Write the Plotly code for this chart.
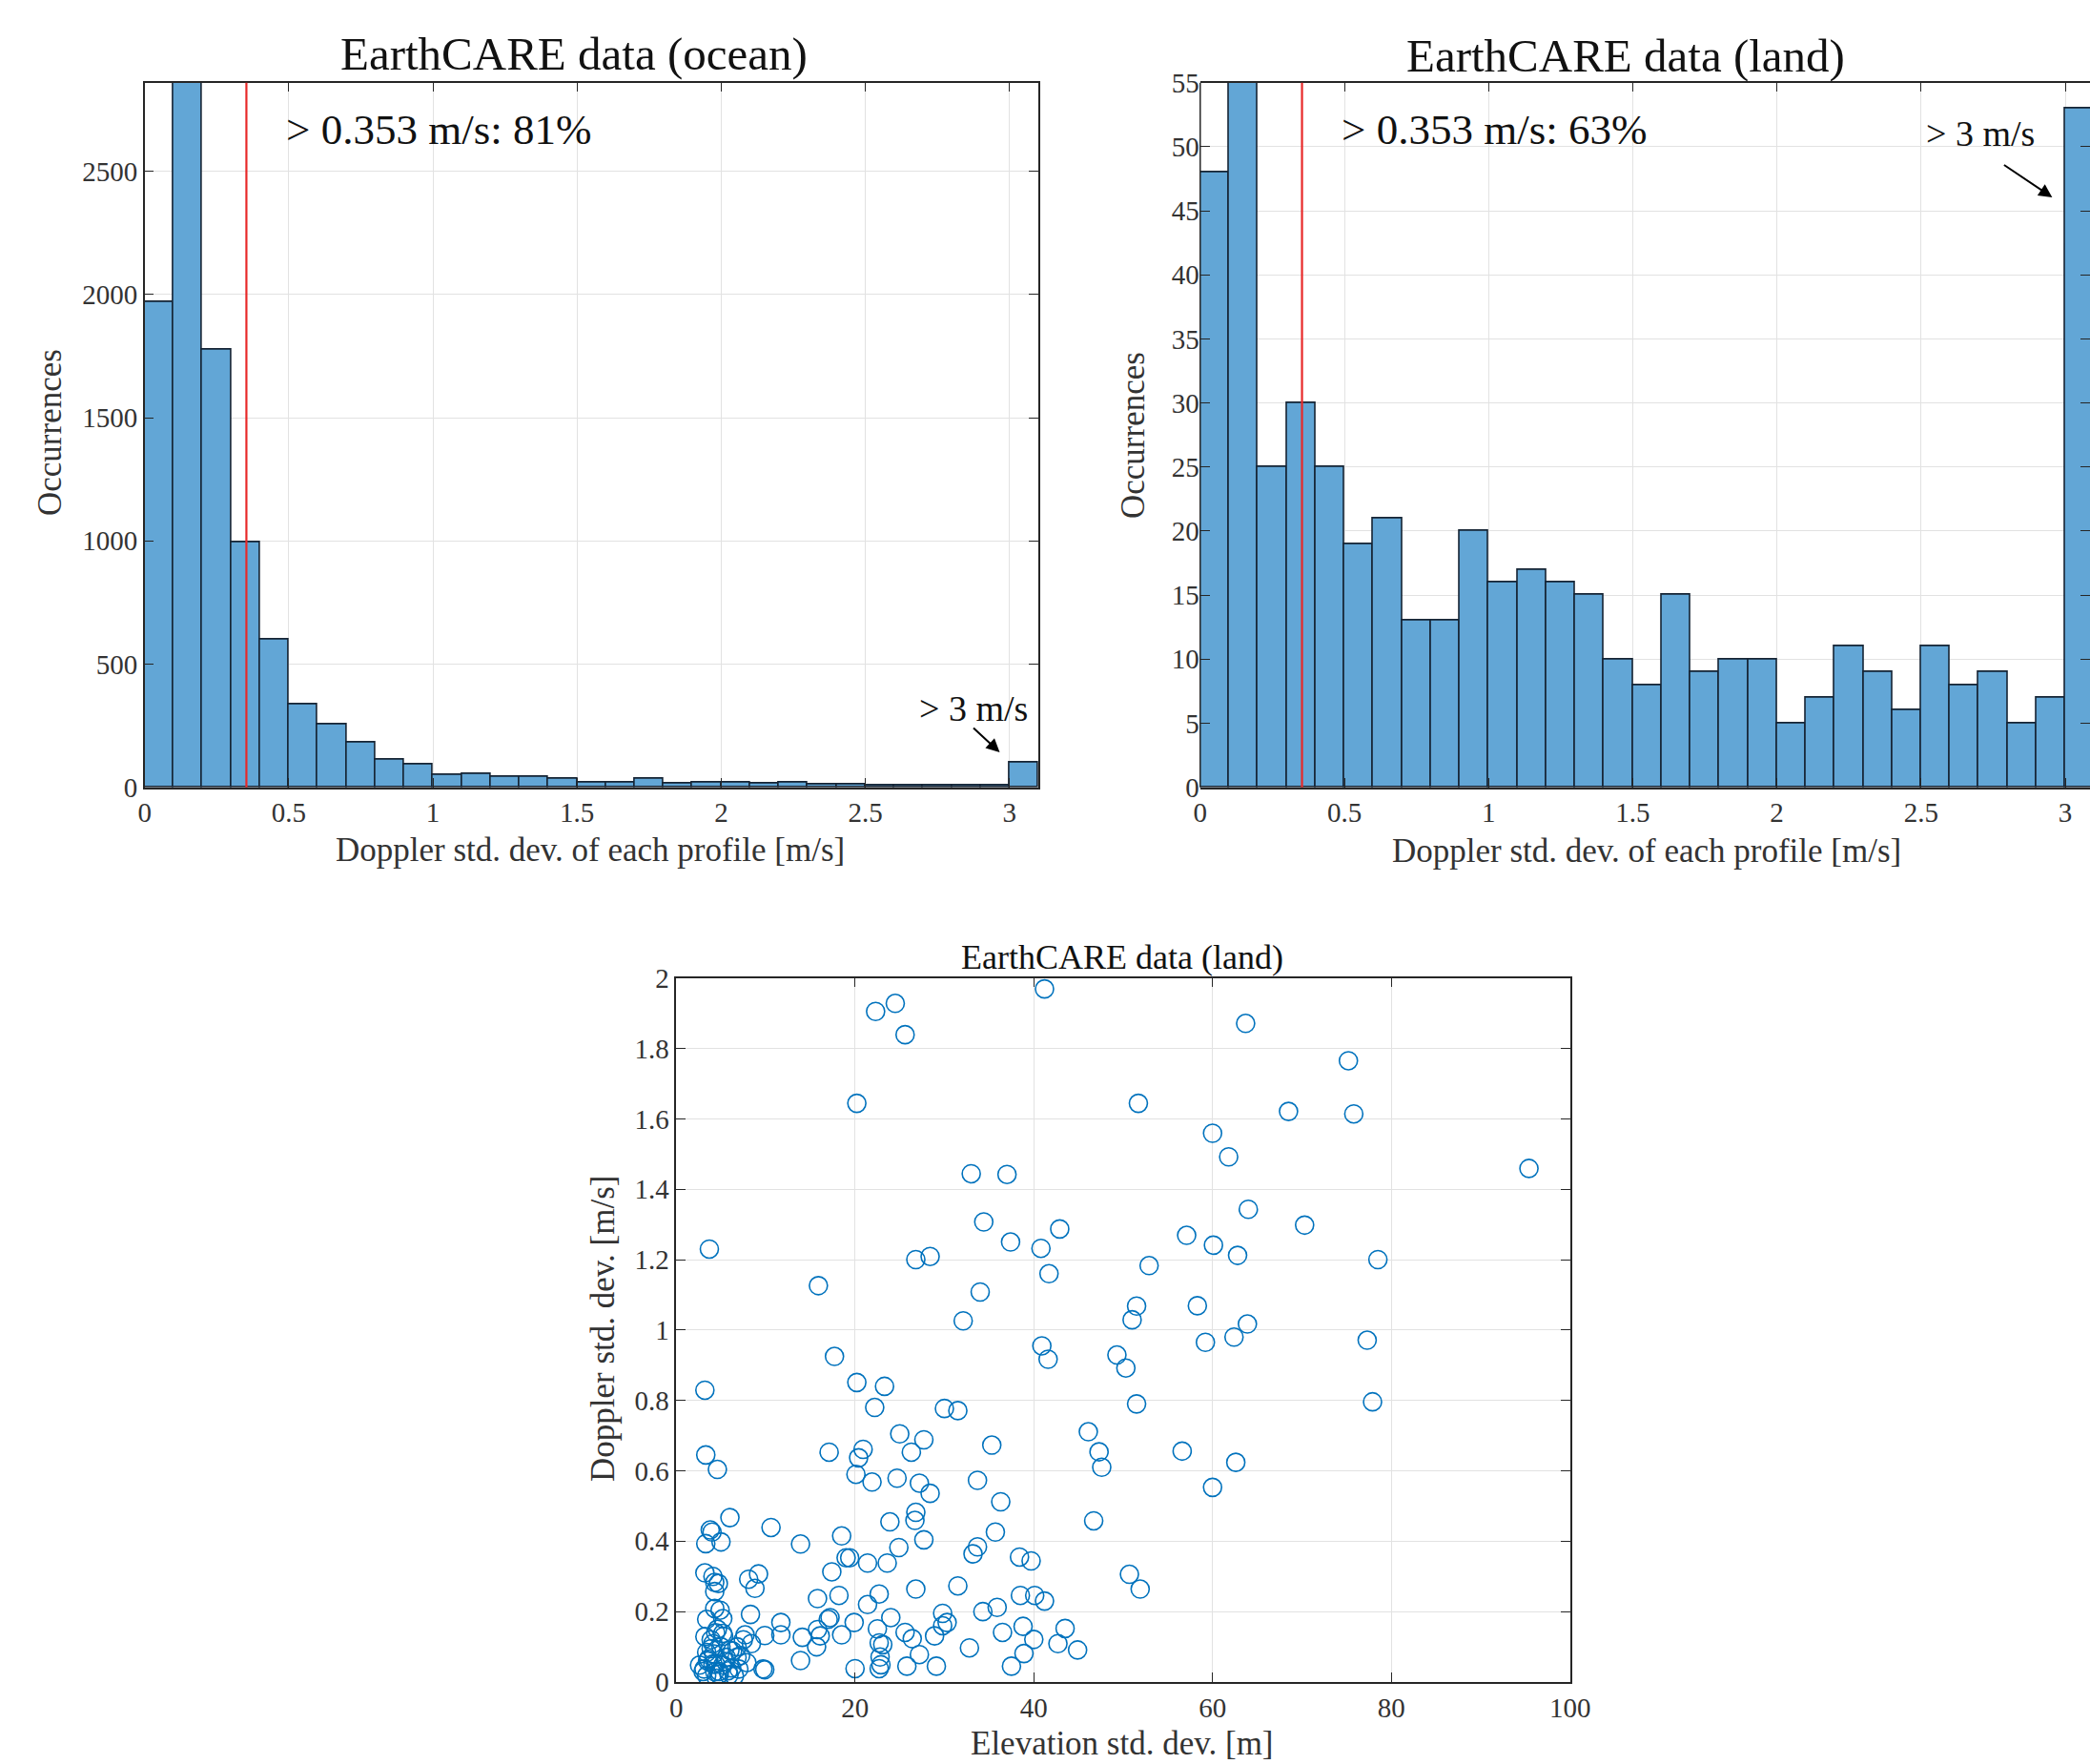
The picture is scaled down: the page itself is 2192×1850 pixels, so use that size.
import plotly.graph_objects as go

# ---------------- data ----------------
bin_edges_left = [round(0.1 * i, 1) for i in range(31)]  # 0.0 ... 3.0 (last bin = "> 3 m/s")
ocean_counts = [1970, 3150, 1775, 995, 598, 336, 255, 182, 114, 93,
                50, 55, 43, 43, 36, 20, 20, 34, 16, 20,
                20, 14, 18, 13, 13, 9, 6, 9, 9, 8, 102]
land_counts = [48, 62, 25, 30, 25, 19, 21, 13, 13, 20,
               16, 17, 16, 15, 10, 8, 15, 9, 10, 10,
               5, 7, 11, 9, 6, 11, 8, 9, 5, 7, 53]
threshold = 0.353
ocean_pct = "81%"
land_pct = "63%"

elev_std = [41.2, 22.3, 24.5, 25.6, 63.7, 75.2, 20.2, 51.7, 68.5, 75.8,
            60.0, 61.8, 95.4, 33.0, 37.0, 64.0, 34.4, 70.3, 42.9, 57.1,
            37.4, 3.7, 40.8, 60.1, 62.8, 26.8, 28.4, 78.5, 52.9, 41.7,
            15.9, 34.0, 51.5, 58.3, 51.0, 32.1, 63.9, 62.4, 77.3, 59.2,
            40.9, 41.6, 49.3, 50.3, 17.7, 20.2, 23.3, 3.2, 22.2, 30.0,
            31.5, 51.5, 77.9, 46.1, 25.0, 27.7, 20.9, 17.1, 26.3, 35.3,
            47.3, 56.6, 3.3, 20.4, 4.6, 47.6, 62.6, 20.1, 21.9, 24.7,
            27.2, 28.4, 33.7, 36.3, 60.0, 6.0, 46.7, 26.8, 26.7, 23.9,
            3.8, 4.0, 10.6, 18.5, 35.7, 3.3, 5.0, 13.9, 27.7, 24.9,
            33.7, 33.2, 19.0, 19.4, 38.4, 39.7, 21.4, 23.6, 3.2, 4.1,
            9.2, 8.1, 17.4, 4.3, 4.7, 8.8, 4.3, 26.8, 31.5, 50.7,
            51.9, 22.7, 18.2, 15.8, 21.4, 38.5, 40.1, 41.2, 4.3, 4.9,
            3.4, 5.2, 8.3, 17.2, 17.0, 29.8, 34.3, 35.9, 24.0, 11.7,
            19.9, 30.3, 29.8, 22.5, 38.8, 43.5, 15.8, 3.2, 5.2, 7.7,
            9.9, 11.7, 14.1, 16.1, 18.5, 25.6, 26.4, 28.9, 36.5, 40.0,
            22.7, 23.1, 42.7, 4.1, 8.4, 15.7, 32.8, 44.9, 3.4, 6.3,
            7.2, 27.2, 38.9, 22.8, 13.9, 7.9, 2.6, 4.1, 5.2, 25.8,
            29.1, 37.5, 22.9, 22.7, 9.9, 9.7, 20.0, 3.1, 4.3, 3.4,
            6.5, 4.5, 5.8, 7.0, 3.6, 4.8, 5.5, 3.9, 6.8, 4.4,
            3.5, 4.2, 5.0, 5.6, 6.2, 4.8, 3.9, 5.3, 6.8, 7.5,
            4.4, 3.0, 5.9, 4.6, 6.0]
doppler_std = [1.969, 1.905, 1.928, 1.839, 1.871, 1.765, 1.644, 1.644, 1.621, 1.614,
               1.559, 1.492, 1.459, 1.444, 1.442, 1.343, 1.307, 1.298, 1.287, 1.269,
               1.250, 1.230, 1.232, 1.241, 1.212, 1.200, 1.209, 1.200, 1.183, 1.160,
               1.126, 1.108, 1.068, 1.069, 1.029, 1.026, 1.017, 0.980, 0.971, 0.965,
               0.955, 0.917, 0.929, 0.892, 0.925, 0.851, 0.840, 0.829, 0.780, 0.777,
               0.771, 0.790, 0.796, 0.711, 0.705, 0.688, 0.661, 0.653, 0.653, 0.673,
               0.654, 0.656, 0.645, 0.637, 0.604, 0.610, 0.624, 0.590, 0.568, 0.579,
               0.565, 0.536, 0.573, 0.512, 0.553, 0.467, 0.458, 0.482, 0.459, 0.455,
               0.432, 0.426, 0.439, 0.415, 0.426, 0.393, 0.398, 0.392, 0.404, 0.382,
               0.384, 0.364, 0.353, 0.353, 0.355, 0.344, 0.338, 0.338, 0.310, 0.300,
               0.307, 0.292, 0.313, 0.283, 0.280, 0.266, 0.257, 0.264, 0.273, 0.306,
               0.264, 0.250, 0.246, 0.237, 0.220, 0.246, 0.246, 0.230, 0.209, 0.204,
               0.178, 0.180, 0.192, 0.183, 0.178, 0.195, 0.200, 0.212, 0.183, 0.169,
               0.169, 0.169, 0.160, 0.151, 0.158, 0.152, 0.149, 0.129, 0.138, 0.134,
               0.132, 0.134, 0.127, 0.131, 0.134, 0.141, 0.123, 0.131, 0.141, 0.121,
               0.111, 0.106, 0.109, 0.109, 0.109, 0.100, 0.097, 0.091, 0.084, 0.088,
               0.075, 0.078, 0.081, 0.071, 0.061, 0.055, 0.048, 0.051, 0.048, 0.045,
               0.045, 0.045, 0.049, 0.038, 0.035, 0.037, 0.038, 0.037, 0.029, 0.018,
               0.017, 0.011, 0.032, 0.037, 0.065, 0.022, 0.058, 0.095, 0.070, 0.140,
               0.060, 0.080, 0.100, 0.070, 0.040, 0.030, 0.120, 0.130, 0.100, 0.120,
               0.050, 0.030, 0.020, 0.150, 0.090]

hist_xticks = [0, 0.5, 1, 1.5, 2, 2.5, 3]
ocean_yticks = [0, 500, 1000, 1500, 2000, 2500]
land_yticks = list(range(0, 56, 5))
scat_xticks = [0, 20, 40, 60, 80, 100]
scat_yticks = [0, 0.2, 0.4, 0.6, 0.8, 1, 1.2, 1.4, 1.6, 1.8, 2]

# ---------------- styling ----------------
W, H = 2192, 1850
FONT = "Liberation Serif"
AXC = "#262626"
BAR_FILL = "rgb(98,166,214)"
BAR_EDGE = "rgb(22,36,52)"
GRID = "rgb(226,226,226)"
MBLUE = "#0072BD"

def px(x):
    return x / W

def py(y):
    return 1 - y / H

centers = [e + 0.05 for e in bin_edges_left]

fig = go.Figure()
fig.add_trace(go.Bar(x=centers, y=ocean_counts, width=0.1, marker=dict(color=BAR_FILL, line=dict(color=BAR_EDGE, width=1.6)),
                     xaxis="x", yaxis="y", showlegend=False))
fig.add_trace(go.Bar(x=centers, y=land_counts, width=0.1, marker=dict(color=BAR_FILL, line=dict(color=BAR_EDGE, width=1.6)),
                     xaxis="x2", yaxis="y2", showlegend=False))
fig.add_trace(go.Scatter(x=elev_std, y=doppler_std, mode="markers",
                         marker=dict(symbol="circle-open", size=19, color=MBLUE, line=dict(width=1.6, color=MBLUE)),
                         xaxis="x3", yaxis="y3", showlegend=False))

def axstyle(**kw):
    d = dict(showline=True, linecolor=AXC, linewidth=1.5, mirror="ticks", ticks="inside", ticklen=10,
             tickwidth=1.3, tickcolor=AXC, showgrid=True, gridcolor=GRID, gridwidth=1.2, zeroline=False,
             automargin=False,
             tickfont=dict(family=FONT, size=29, color="#333333"), layer="above traces")
    d.update(kw)
    return d

# axes pixel geometry (page pixels)
oc_l, oc_r, top, bot = 151.7, 1089.0, 86.7, 825.7
la_l = 1258.8
la_pxu = 302.4
la_xmax = (W - la_l) / la_pxu  # right part of the land panel runs off the page

fig.update_layout(
    template="none",
    width=W, height=H, margin=dict(l=0, r=0, t=0, b=0, pad=0, autoexpand=False),
    paper_bgcolor="white", plot_bgcolor="white", bargap=0,
    xaxis=axstyle(domain=[px(oc_l), px(oc_r)], range=[0, 3.1], tickvals=hist_xticks, anchor="y"),
    yaxis=axstyle(domain=[py(bot), py(top)], range=[0, 2860], tickvals=ocean_yticks, tickformat="d", anchor="x"),
    xaxis2=axstyle(domain=[px(la_l), 1.0], range=[0, la_xmax], tickvals=hist_xticks, anchor="y2"),
    yaxis2=axstyle(domain=[py(bot), py(top)], range=[0, 55], tickvals=land_yticks, anchor="x2", showline=False),
    xaxis3=axstyle(domain=[px(709.3), px(1646.7)], range=[0, 100], tickvals=scat_xticks, anchor="y3"),
    yaxis3=axstyle(domain=[py(1764), py(1025.7)], range=[0, 2], tickvals=scat_yticks, anchor="x3"),
)

# left frame line of the land panel (its right side is off the page)
fig.add_shape(type="line", xref="x2 domain", yref="y2 domain", x0=0, x1=0, y0=0, y1=1,
              line=dict(color=AXC, width=1.5), layer="above")

# threshold lines
for xa, ya in (("x", "y"), ("x2", "y2")):
    fig.add_shape(type="line", xref=xa, yref=f"{ya} domain", x0=threshold, x1=threshold, y0=0, y1=1,
                  line=dict(color="rgb(232,40,40)", width=2.2), layer="above")

ann = []
def txt(x, y, s, size, xref="paper", yref="paper", xanchor="center", yanchor="middle", angle=0, color="#111111"):
    ann.append(dict(x=x, y=y, xref=xref, yref=yref, text=s, showarrow=False, xanchor=xanchor, yanchor=yanchor,
                    textangle=angle, font=dict(family=FONT, size=size, color=color)))

# titles and labels
txt(px(602), py(56), "EarthCARE data (ocean)", 49)
txt(px(1705), py(58), "EarthCARE data (land)", 49)
txt(px(619), py(892), "Doppler std. dev. of each profile [m/s]", 35, color="#333333")
txt(px(1727), py(893), "Doppler std. dev. of each profile [m/s]", 35, color="#333333")
txt(px(53), py(454), "Occurrences", 35, angle=-90, color="#333333")
txt(px(1188), py(457), "Occurrences", 35, angle=-90, color="#333333")
txt(px(1177), py(1004), "EarthCARE data (land)", 36)
txt(px(1177), py(1828), "Elevation std. dev. [m]", 35, color="#333333")
txt(px(632), py(1394), "Doppler std. dev. [m/s]", 35, angle=-90, color="#333333")

# in-plot annotations
txt(0.484, 2670, f"> {threshold} m/s: {ocean_pct}", 45, xref="x", yref="y", xanchor="left")
txt(0.484, 51.3, f"> {threshold} m/s: {land_pct}", 45, xref="x2", yref="y2", xanchor="left")
txt(3.069, 320, "> 3 m/s", 38, xref="x", yref="y", xanchor="right")
txt(2.902, 51.0, "> 3 m/s", 38, xref="x2", yref="y2", xanchor="right")

# arrows
ann.append(dict(x=2.966, y=142, xref="x", yref="y", ax=-29, ay=-27, text="", showarrow=True,
                arrowhead=2, arrowsize=1.4, arrowwidth=2, arrowcolor="black"))
ann.append(dict(x=2.955, y=46.05, xref="x2", yref="y2", ax=-52, ay=-35, text="", showarrow=True,
                arrowhead=2, arrowsize=1.4, arrowwidth=2, arrowcolor="black"))

fig.update_layout(annotations=ann)
# page body without its default 8px margin so the figure fills the window exactly
fig.write_html("out.html", config={"displayModeBar": False},
               post_script="document.body.style.margin='0px';document.body.style.overflow='hidden';")
